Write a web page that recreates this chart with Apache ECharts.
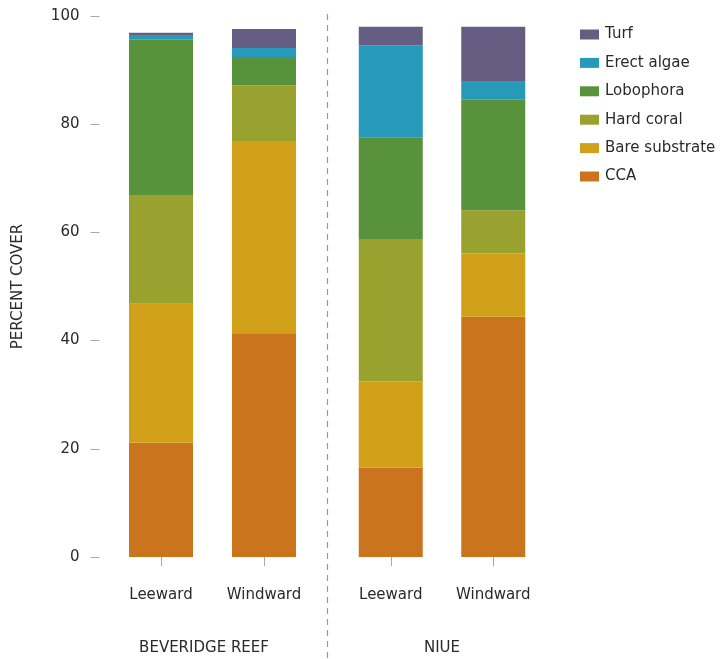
<!DOCTYPE html>
<html><head><meta charset="utf-8">
<script src="https://cdn.jsdelivr.net/npm/echarts@6/dist/echarts.min.js"></script>
<style>html,body{margin:0;padding:0;background:#fff}#c{width:720px;height:659px}</style>
</head><body><div id="c"></div>
<script>
const groups = ['BEVERIDGE REEF', 'NIUE'];
const sites = ['Leeward', 'Windward'];
const yTicks = [0, 20, 40, 60, 80, 100];
const categories = ['CCA', 'Bare substrate', 'Hard coral', 'Lobophora', 'Erect algae', 'Turf'];
const colors = ['#cb741e', '#d1a019', '#9aa22f', '#58923b', '#2799b9', '#665e82'];
// values per category: [BR Leeward, BR Windward]
const beveridge = {
  'CCA': [21.1, 41.2],
  'Bare substrate': [25.7, 35.7],
  'Hard coral': [20.1, 10.3],
  'Lobophora': [28.7, 5.2],
  'Erect algae': [0.9, 1.7],
  'Turf': [0.4, 3.5]
};
// [Niue Leeward, Niue Windward]
const niue = {
  'CCA': [16.5, 44.4],
  'Bare substrate': [16.0, 11.7],
  'Hard coral': [26.3, 8.0],
  'Lobophora': [18.8, 20.4],
  'Erect algae': [17.0, 3.5],
  'Turf': [3.4, 10.0]
};

const font = '"DejaVu Sans", sans-serif';
const txt = '#2a2a2a';
const tickColor = '#aaa';

const chart = echarts.init(document.getElementById('c'), null, {renderer: 'canvas'});
const series = [];
categories.forEach((name, i) => {
  series.push({name, type: 'bar', stack: 'a', xAxisIndex: 0, yAxisIndex: 0, barWidth: 64,
    itemStyle: {color: colors[i]}, data: beveridge[name]});
  series.push({name, type: 'bar', stack: 'b', xAxisIndex: 1, yAxisIndex: 1, barWidth: 64,
    itemStyle: {color: colors[i]}, data: niue[name]});
});

const xAxisBase = (gi) => ({
  type: 'category', gridIndex: gi, data: sites, offset: 12,
  axisLine: {show: false},
  axisTick: {show: true, alignWithLabel: true, length: 9, lineStyle: {color: tickColor, width: 1}},
  axisLabel: {margin: 19, color: txt, fontSize: 15, fontFamily: font}
});
const yAxisBase = (gi, show) => ({
  type: 'value', gridIndex: gi, min: yTicks[0], max: yTicks[yTicks.length - 1], interval: 20,
  show: show, offset: 10,
  splitLine: {show: false},
  axisLine: {show: false},
  axisTick: {show: true, length: 9, lineStyle: {color: tickColor, width: 1}},
  axisLabel: {margin: 20, color: txt, fontSize: 15, fontFamily: font},
  name: show ? 'PERCENT COVER' : '', nameLocation: 'middle', nameGap: 74,
  nameTextStyle: {color: txt, fontSize: 15, fontFamily: font}
});

chart.setOption({
  animation: false,
  color: colors,
  grid: [
    {left: 109.5, width: 206, top: 16, bottom: 102},
    {left: 339.5, width: 205, top: 16, bottom: 102}
  ],
  xAxis: [xAxisBase(0), xAxisBase(1)],
  yAxis: [yAxisBase(0, true), yAxisBase(1, false)],
  legend: {
    orient: 'vertical', left: 575, top: 22,
    data: categories.slice().reverse(),
    itemWidth: 19, itemHeight: 10, itemGap: 13.4,
    icon: 'rect',
    textStyle: {color: txt, fontSize: 15, fontFamily: font, padding: [0, 0, 0, 1]}
  },
  graphic: [
    {type: 'line', shape: {x1: 327.5, y1: 14, x2: 327.5, y2: 659},
     style: {stroke: '#999', lineWidth: 1.2, lineDash: [6, 5]}},
    {type: 'text', x: 204, y: 648,
     style: {text: groups[0], fill: txt, fontSize: 15, fontFamily: font, align: 'center', verticalAlign: 'middle'}},
    {type: 'text', x: 442, y: 648,
     style: {text: groups[1], fill: txt, fontSize: 15, fontFamily: font, align: 'center', verticalAlign: 'middle'}}
  ],
  series
});
</script></body></html>
